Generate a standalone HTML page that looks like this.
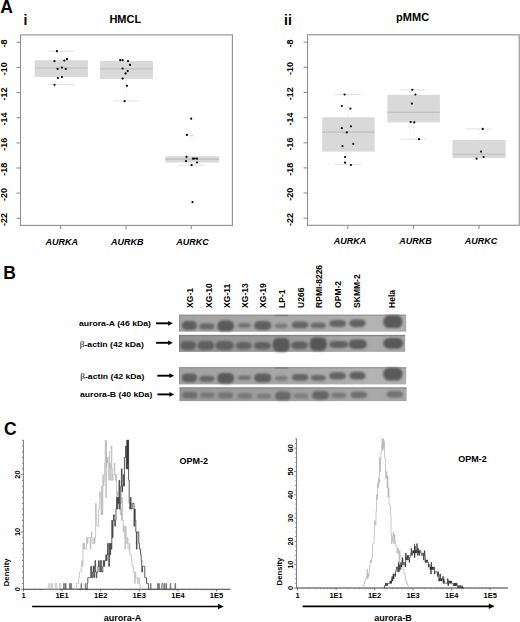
<!DOCTYPE html>
<html><head><meta charset="utf-8"><style>html,body{margin:0;padding:0;background:#fff;}svg{display:block;}</style></head>
<body><svg width="520" height="622" viewBox="0 0 520 622">
<rect width="520" height="622" fill="#fff"/>
<text x="0.3" y="12.5" font-family="Liberation Sans, sans-serif" font-weight="bold" font-size="17.5">A</text>
<text x="3.3" y="278.7" font-family="Liberation Sans, sans-serif" font-weight="bold" font-size="17.5">B</text>
<text x="4" y="435.0" font-family="Liberation Sans, sans-serif" font-weight="bold" font-size="17.5">C</text>
<text x="23.6" y="24.5" font-family="Liberation Sans, sans-serif" font-weight="bold" font-size="14">i</text>
<text x="284.1" y="24.8" font-family="Liberation Sans, sans-serif" font-weight="bold" font-size="14">ii</text>
<text x="125.3" y="22.9" font-family="Liberation Sans, sans-serif" font-weight="bold" font-size="11" text-anchor="middle">HMCL</text>
<text x="412.6" y="21.2" font-family="Liberation Sans, sans-serif" font-weight="bold" font-size="11" text-anchor="middle">pMMC</text>
<rect x="20.5" y="34.9" width="211.9" height="190.5" fill="none" stroke="#8f8f8f" stroke-width="1.1"/>
<line x1="16.5" y1="42.3" x2="20.5" y2="42.3" stroke="#8f8f8f" stroke-width="1.1"/>
<text transform="translate(7.2,43.6) rotate(-90)" font-family="Liberation Sans, sans-serif" font-weight="bold" font-size="9" text-anchor="middle">-8</text>
<line x1="16.5" y1="67.4" x2="20.5" y2="67.4" stroke="#8f8f8f" stroke-width="1.1"/>
<text transform="translate(7.2,68.7) rotate(-90)" font-family="Liberation Sans, sans-serif" font-weight="bold" font-size="9" text-anchor="middle">-10</text>
<line x1="16.5" y1="92.6" x2="20.5" y2="92.6" stroke="#8f8f8f" stroke-width="1.1"/>
<text transform="translate(7.2,93.9) rotate(-90)" font-family="Liberation Sans, sans-serif" font-weight="bold" font-size="9" text-anchor="middle">-12</text>
<line x1="16.5" y1="117.7" x2="20.5" y2="117.7" stroke="#8f8f8f" stroke-width="1.1"/>
<text transform="translate(7.2,119.0) rotate(-90)" font-family="Liberation Sans, sans-serif" font-weight="bold" font-size="9" text-anchor="middle">-14</text>
<line x1="16.5" y1="142.9" x2="20.5" y2="142.9" stroke="#8f8f8f" stroke-width="1.1"/>
<text transform="translate(7.2,144.2) rotate(-90)" font-family="Liberation Sans, sans-serif" font-weight="bold" font-size="9" text-anchor="middle">-16</text>
<line x1="16.5" y1="168.0" x2="20.5" y2="168.0" stroke="#8f8f8f" stroke-width="1.1"/>
<text transform="translate(7.2,169.3) rotate(-90)" font-family="Liberation Sans, sans-serif" font-weight="bold" font-size="9" text-anchor="middle">-18</text>
<line x1="16.5" y1="193.1" x2="20.5" y2="193.1" stroke="#8f8f8f" stroke-width="1.1"/>
<text transform="translate(7.2,194.4) rotate(-90)" font-family="Liberation Sans, sans-serif" font-weight="bold" font-size="9" text-anchor="middle">-20</text>
<line x1="16.5" y1="218.3" x2="20.5" y2="218.3" stroke="#8f8f8f" stroke-width="1.1"/>
<text transform="translate(7.2,219.6) rotate(-90)" font-family="Liberation Sans, sans-serif" font-weight="bold" font-size="9" text-anchor="middle">-22</text>
<line x1="60.6" y1="225.4" x2="60.6" y2="229.0" stroke="#8f8f8f" stroke-width="1.1"/>
<text x="61.800000000000004" y="245.2" font-family="Liberation Sans, sans-serif" font-weight="bold" font-style="italic" font-size="9" text-anchor="middle">AURKA</text>
<line x1="126.0" y1="225.4" x2="126.0" y2="229.0" stroke="#8f8f8f" stroke-width="1.1"/>
<text x="127.2" y="245.2" font-family="Liberation Sans, sans-serif" font-weight="bold" font-style="italic" font-size="9" text-anchor="middle">AURKB</text>
<line x1="191.3" y1="225.4" x2="191.3" y2="229.0" stroke="#8f8f8f" stroke-width="1.1"/>
<text x="192.5" y="245.2" font-family="Liberation Sans, sans-serif" font-weight="bold" font-style="italic" font-size="9" text-anchor="middle">AURKC</text>
<rect x="34.7" y="60.2" width="53.2" height="16.799999999999997" fill="#d9d9d9"/>
<line x1="34.7" y1="68.0" x2="87.9" y2="68.0" stroke="#bdbdbd" stroke-width="1.1"/>
<line x1="61.3" y1="51.2" x2="61.3" y2="60.2" stroke="#e3e3e3" stroke-width="0.8" stroke-dasharray="2,2"/>
<line x1="48.3" y1="51.2" x2="74.3" y2="51.2" stroke="#dedede" stroke-width="0.9"/>
<line x1="61.3" y1="77.0" x2="61.3" y2="84.4" stroke="#e3e3e3" stroke-width="0.8" stroke-dasharray="2,2"/>
<line x1="48.3" y1="84.4" x2="74.3" y2="84.4" stroke="#dedede" stroke-width="0.9"/>
<rect x="100.1" y="60.9" width="52.80000000000001" height="18.1" fill="#d9d9d9"/>
<line x1="100.1" y1="68.9" x2="152.9" y2="68.9" stroke="#bdbdbd" stroke-width="1.1"/>
<line x1="126.5" y1="79.0" x2="126.5" y2="101.0" stroke="#e3e3e3" stroke-width="0.8" stroke-dasharray="2,2"/>
<line x1="113.5" y1="101.0" x2="139.5" y2="101.0" stroke="#dedede" stroke-width="0.9"/>
<rect x="165.4" y="156.2" width="53.79999999999998" height="6.300000000000011" fill="#d9d9d9"/>
<line x1="165.4" y1="159.1" x2="219.2" y2="159.1" stroke="#bdbdbd" stroke-width="1.1"/>
<line x1="191.3" y1="162.5" x2="191.3" y2="165.2" stroke="#e3e3e3" stroke-width="0.8" stroke-dasharray="2,2"/>
<line x1="178.3" y1="165.2" x2="204.3" y2="165.2" stroke="#dedede" stroke-width="0.9"/>
<circle cx="56.9" cy="51.2" r="1.1" fill="#000"/>
<circle cx="54.5" cy="61.1" r="1.1" fill="#000"/>
<circle cx="64.3" cy="60.5" r="1.1" fill="#000"/>
<circle cx="67" cy="59.2" r="1.1" fill="#000"/>
<circle cx="62" cy="67.6" r="1.1" fill="#000"/>
<circle cx="57.6" cy="68.9" r="1.1" fill="#000"/>
<circle cx="65.7" cy="68.9" r="1.1" fill="#000"/>
<circle cx="57.9" cy="78" r="1.1" fill="#000"/>
<circle cx="61.9" cy="77" r="1.1" fill="#000"/>
<circle cx="54.5" cy="84.8" r="1.1" fill="#000"/>
<circle cx="120.2" cy="60.2" r="1.1" fill="#000"/>
<circle cx="122.6" cy="60.2" r="1.1" fill="#000"/>
<circle cx="128" cy="61.1" r="1.1" fill="#000"/>
<circle cx="130" cy="64.9" r="1.1" fill="#000"/>
<circle cx="122.6" cy="68.5" r="1.1" fill="#000"/>
<circle cx="127.7" cy="71" r="1.1" fill="#000"/>
<circle cx="125.6" cy="73.4" r="1.1" fill="#000"/>
<circle cx="122.6" cy="78.6" r="1.1" fill="#000"/>
<circle cx="126.9" cy="85.8" r="1.1" fill="#000"/>
<circle cx="124.6" cy="101.2" r="1.1" fill="#000"/>
<circle cx="191.2" cy="118.7" r="1.1" fill="#000"/>
<circle cx="186.9" cy="134.9" r="1.1" fill="#000"/>
<circle cx="186.5" cy="156.8" r="1.1" fill="#000"/>
<circle cx="193" cy="158.7" r="1.1" fill="#000"/>
<circle cx="194.7" cy="158.5" r="1.1" fill="#000"/>
<circle cx="197" cy="158.7" r="1.1" fill="#000"/>
<circle cx="186" cy="161.1" r="1.1" fill="#000"/>
<circle cx="197" cy="162.5" r="1.1" fill="#000"/>
<circle cx="191.6" cy="165.2" r="1.1" fill="#000"/>
<circle cx="192.5" cy="202.1" r="1.1" fill="#000"/>
<rect x="307.5" y="34.8" width="211.70000000000005" height="190.5" fill="none" stroke="#8f8f8f" stroke-width="1.1"/>
<line x1="303.5" y1="42.2" x2="307.5" y2="42.2" stroke="#8f8f8f" stroke-width="1.1"/>
<text transform="translate(292.9,43.5) rotate(-90)" font-family="Liberation Sans, sans-serif" font-weight="bold" font-size="9" text-anchor="middle">-8</text>
<line x1="303.5" y1="67.3" x2="307.5" y2="67.3" stroke="#8f8f8f" stroke-width="1.1"/>
<text transform="translate(292.9,68.6) rotate(-90)" font-family="Liberation Sans, sans-serif" font-weight="bold" font-size="9" text-anchor="middle">-10</text>
<line x1="303.5" y1="92.5" x2="307.5" y2="92.5" stroke="#8f8f8f" stroke-width="1.1"/>
<text transform="translate(292.9,93.8) rotate(-90)" font-family="Liberation Sans, sans-serif" font-weight="bold" font-size="9" text-anchor="middle">-12</text>
<line x1="303.5" y1="117.6" x2="307.5" y2="117.6" stroke="#8f8f8f" stroke-width="1.1"/>
<text transform="translate(292.9,118.9) rotate(-90)" font-family="Liberation Sans, sans-serif" font-weight="bold" font-size="9" text-anchor="middle">-14</text>
<line x1="303.5" y1="142.8" x2="307.5" y2="142.8" stroke="#8f8f8f" stroke-width="1.1"/>
<text transform="translate(292.9,144.1) rotate(-90)" font-family="Liberation Sans, sans-serif" font-weight="bold" font-size="9" text-anchor="middle">-16</text>
<line x1="303.5" y1="167.9" x2="307.5" y2="167.9" stroke="#8f8f8f" stroke-width="1.1"/>
<text transform="translate(292.9,169.2) rotate(-90)" font-family="Liberation Sans, sans-serif" font-weight="bold" font-size="9" text-anchor="middle">-18</text>
<line x1="303.5" y1="193.0" x2="307.5" y2="193.0" stroke="#8f8f8f" stroke-width="1.1"/>
<text transform="translate(292.9,194.3) rotate(-90)" font-family="Liberation Sans, sans-serif" font-weight="bold" font-size="9" text-anchor="middle">-20</text>
<line x1="303.5" y1="218.2" x2="307.5" y2="218.2" stroke="#8f8f8f" stroke-width="1.1"/>
<text transform="translate(292.9,219.5) rotate(-90)" font-family="Liberation Sans, sans-serif" font-weight="bold" font-size="9" text-anchor="middle">-22</text>
<line x1="347.8" y1="225.3" x2="347.8" y2="228.9" stroke="#8f8f8f" stroke-width="1.1"/>
<text x="349.90000000000003" y="243.5" font-family="Liberation Sans, sans-serif" font-weight="bold" font-style="italic" font-size="9" text-anchor="middle">AURKA</text>
<line x1="413.4" y1="225.3" x2="413.4" y2="228.9" stroke="#8f8f8f" stroke-width="1.1"/>
<text x="415.5" y="243.5" font-family="Liberation Sans, sans-serif" font-weight="bold" font-style="italic" font-size="9" text-anchor="middle">AURKB</text>
<line x1="478.9" y1="225.3" x2="478.9" y2="228.9" stroke="#8f8f8f" stroke-width="1.1"/>
<text x="481.0" y="243.5" font-family="Liberation Sans, sans-serif" font-weight="bold" font-style="italic" font-size="9" text-anchor="middle">AURKC</text>
<rect x="322.2" y="117.3" width="52.400000000000034" height="34.3" fill="#d9d9d9"/>
<line x1="322.2" y1="132.1" x2="374.6" y2="132.1" stroke="#bdbdbd" stroke-width="1.1"/>
<line x1="347.8" y1="94.5" x2="347.8" y2="117.3" stroke="#e3e3e3" stroke-width="0.8" stroke-dasharray="2,2"/>
<line x1="334.8" y1="94.5" x2="360.8" y2="94.5" stroke="#dedede" stroke-width="0.9"/>
<line x1="347.8" y1="151.6" x2="347.8" y2="164.3" stroke="#e3e3e3" stroke-width="0.8" stroke-dasharray="2,2"/>
<line x1="334.8" y1="164.3" x2="360.8" y2="164.3" stroke="#dedede" stroke-width="0.9"/>
<rect x="387.4" y="94.8" width="52.5" height="27.60000000000001" fill="#d9d9d9"/>
<line x1="387.4" y1="112.3" x2="439.9" y2="112.3" stroke="#bdbdbd" stroke-width="1.1"/>
<line x1="413.4" y1="89.8" x2="413.4" y2="94.8" stroke="#e3e3e3" stroke-width="0.8" stroke-dasharray="2,2"/>
<line x1="400.4" y1="89.8" x2="426.4" y2="89.8" stroke="#dedede" stroke-width="0.9"/>
<line x1="413.4" y1="122.4" x2="413.4" y2="139.2" stroke="#e3e3e3" stroke-width="0.8" stroke-dasharray="2,2"/>
<line x1="400.4" y1="139.2" x2="426.4" y2="139.2" stroke="#dedede" stroke-width="0.9"/>
<rect x="452.4" y="139.9" width="53.200000000000045" height="18.19999999999999" fill="#d9d9d9"/>
<line x1="452.4" y1="154.3" x2="505.6" y2="154.3" stroke="#bdbdbd" stroke-width="1.1"/>
<line x1="478.9" y1="128.9" x2="478.9" y2="139.9" stroke="#e3e3e3" stroke-width="0.8" stroke-dasharray="2,2"/>
<line x1="465.9" y1="128.9" x2="491.9" y2="128.9" stroke="#dedede" stroke-width="0.9"/>
<circle cx="344.6" cy="94.5" r="1.1" fill="#000"/>
<circle cx="341.8" cy="106" r="1.1" fill="#000"/>
<circle cx="350.4" cy="108.6" r="1.1" fill="#000"/>
<circle cx="350.9" cy="126.3" r="1.1" fill="#000"/>
<circle cx="341.8" cy="128.2" r="1.1" fill="#000"/>
<circle cx="346.8" cy="132.4" r="1.1" fill="#000"/>
<circle cx="353.3" cy="143.9" r="1.1" fill="#000"/>
<circle cx="342.5" cy="146.2" r="1.1" fill="#000"/>
<circle cx="345.1" cy="157.1" r="1.1" fill="#000"/>
<circle cx="345.1" cy="162.7" r="1.1" fill="#000"/>
<circle cx="350.9" cy="165" r="1.1" fill="#000"/>
<circle cx="412.3" cy="89.8" r="1.1" fill="#000"/>
<circle cx="415.4" cy="94.5" r="1.1" fill="#000"/>
<circle cx="411.9" cy="103.6" r="1.1" fill="#000"/>
<circle cx="410.7" cy="122" r="1.1" fill="#000"/>
<circle cx="414.3" cy="122.4" r="1.1" fill="#000"/>
<circle cx="419" cy="139.2" r="1.1" fill="#000"/>
<circle cx="482.7" cy="128.9" r="1.1" fill="#000"/>
<circle cx="481.1" cy="151.6" r="1.1" fill="#000"/>
<circle cx="483.6" cy="157" r="1.1" fill="#000"/>
<circle cx="476.6" cy="158.7" r="1.1" fill="#000"/>
<circle cx="191.8" cy="135.2" r="1.6" fill="#e6e6e6"/>
<text transform="translate(192.9,307.9) rotate(-90)" font-family="Liberation Sans, sans-serif" font-weight="bold" font-size="8.5">XG-1</text>
<text transform="translate(212.0,307.9) rotate(-90)" font-family="Liberation Sans, sans-serif" font-weight="bold" font-size="8.5">XG-10</text>
<text transform="translate(230.4,307.9) rotate(-90)" font-family="Liberation Sans, sans-serif" font-weight="bold" font-size="8.5">XG-11</text>
<text transform="translate(247.5,307.9) rotate(-90)" font-family="Liberation Sans, sans-serif" font-weight="bold" font-size="8.5">XG-13</text>
<text transform="translate(266.2,307.9) rotate(-90)" font-family="Liberation Sans, sans-serif" font-weight="bold" font-size="8.5">XG-19</text>
<text transform="translate(285.3,307.9) rotate(-90)" font-family="Liberation Sans, sans-serif" font-weight="bold" font-size="8.5">LP-1</text>
<text transform="translate(303.9,307.9) rotate(-90)" font-family="Liberation Sans, sans-serif" font-weight="bold" font-size="8.5">U266</text>
<text transform="translate(322.4,307.9) rotate(-90)" font-family="Liberation Sans, sans-serif" font-weight="bold" font-size="8.5">RPMI-8226</text>
<text transform="translate(340.9,307.9) rotate(-90)" font-family="Liberation Sans, sans-serif" font-weight="bold" font-size="8.5">OPM-2</text>
<text transform="translate(359.9,307.9) rotate(-90)" font-family="Liberation Sans, sans-serif" font-weight="bold" font-size="8.5">SKMM-2</text>
<text transform="translate(395.2,307.9) rotate(-90)" font-family="Liberation Sans, sans-serif" font-weight="bold" font-size="8.5">Hela</text>
<g transform="translate(78.9,326.3) scale(1,0.92)"><text x="0" y="0" font-family="Liberation Sans, sans-serif" font-weight="bold" font-size="8.7">aurora-A (46 kDa)</text></g>
<g transform="translate(79.7,346.7) scale(1,0.92)"><text x="0" y="0" font-size="9.4"><tspan font-family="Liberation Serif, serif">β</tspan><tspan font-family="Liberation Sans, sans-serif" font-weight="bold" font-size="8.7">-actin (42 kDa)</tspan></text></g>
<g transform="translate(80.2,378.6) scale(1,0.92)"><text x="0" y="0" font-size="9.4"><tspan font-family="Liberation Serif, serif">β</tspan><tspan font-family="Liberation Sans, sans-serif" font-weight="bold" font-size="8.7">-actin (42 kDa)</tspan></text></g>
<g transform="translate(79.9,397.3) scale(1,0.92)"><text x="0" y="0" font-family="Liberation Sans, sans-serif" font-weight="bold" font-size="8.7">aurora-B (40 kDa)</text></g>
<line x1="156.1" y1="323.3" x2="169.0" y2="323.3" stroke="#000" stroke-width="1.9"/>
<path d="M172.9 323.3 L168.1 320.90000000000003 L168.1 325.7 Z" fill="#000"/>
<line x1="156.1" y1="342.8" x2="169.0" y2="342.8" stroke="#000" stroke-width="1.9"/>
<path d="M172.9 342.8 L168.1 340.40000000000003 L168.1 345.2 Z" fill="#000"/>
<line x1="157.4" y1="375.7" x2="170.3" y2="375.7" stroke="#000" stroke-width="1.9"/>
<path d="M174.2 375.7 L169.4 373.3 L169.4 378.09999999999997 Z" fill="#000"/>
<line x1="157.4" y1="394.4" x2="170.3" y2="394.4" stroke="#000" stroke-width="1.9"/>
<path d="M174.2 394.4 L169.4 392.0 L169.4 396.79999999999995 Z" fill="#000"/>
<defs><filter id="bl" x="-30%" y="-80%" width="160%" height="260%"><feGaussianBlur stdDeviation="1.0"/></filter><filter id="bl2" x="-10%" y="-10%" width="120%" height="120%"><feGaussianBlur stdDeviation="0.6"/></filter></defs>
<defs><linearGradient id="g314" gradientUnits="userSpaceOnUse" x1="179.1" y1="0" x2="406.2" y2="0"><stop offset="0.000" stop-color="#a3a3a3"/><stop offset="0.532" stop-color="#a8a8a8"/><stop offset="0.686" stop-color="#acacac"/><stop offset="0.849" stop-color="#b4b4b4"/><stop offset="1.000" stop-color="#aeaeae"/></linearGradient></defs>
<rect x="179.1" y="314.7" width="227.1" height="17.0" fill="url(#g314)"/>
<rect x="179.1" y="314.7" width="227.1" height="1.3" fill="#939393" fill-opacity="0.8"/>
<rect x="179.1" y="314.7" width="1" height="17.0" fill="#939393"/>
<rect x="181.8" y="321.1" width="15.3" height="8.8" rx="4.5" ry="4.4" fill="#5e5e5e" filter="url(#bl)"/>
<rect x="199.3" y="323.3" width="15.1" height="6.1" rx="4.4" ry="3.0" fill="#686868" filter="url(#bl)"/>
<rect x="217.2" y="320.6" width="16.8" height="10.6" rx="4.9" ry="5.3" fill="#5a5a5a" filter="url(#bl)"/>
<rect x="237.9" y="323.2" width="12.7" height="4.3" rx="3.7" ry="2.1" fill="#6e6e6e" filter="url(#bl)"/>
<rect x="254.0" y="321.1" width="17.4" height="8.8" rx="5.1" ry="4.4" fill="#5e5e5e" filter="url(#bl)"/>
<rect x="274.8" y="323.4" width="12.7" height="4.9" rx="3.7" ry="2.5" fill="#7a7a7a" filter="url(#bl)"/>
<rect x="291.7" y="321.6" width="16.8" height="6.7" rx="4.9" ry="3.4" fill="#656565" filter="url(#bl)"/>
<rect x="310.7" y="322.6" width="15.1" height="5.7" rx="4.4" ry="2.9" fill="#6a6a6a" filter="url(#bl)"/>
<rect x="329.2" y="319.9" width="16.8" height="7.2" rx="4.9" ry="3.6" fill="#636363" filter="url(#bl)"/>
<rect x="349.4" y="319.4" width="16.2" height="7.8" rx="4.8" ry="3.9" fill="#606060" filter="url(#bl)"/>
<rect x="383.2" y="315.3" width="19.3" height="12.8" rx="5.7" ry="6.4" fill="#5a5a5a" filter="url(#bl)"/>
<rect x="274.8" y="314.9" width="13.2" height="1.3" fill="#7a7a7a" filter="url(#bl2)"/>
<defs><linearGradient id="g334" gradientUnits="userSpaceOnUse" x1="179.1" y1="0" x2="405.2" y2="0"><stop offset="0.000" stop-color="#929292"/><stop offset="0.535" stop-color="#9c9c9c"/><stop offset="0.690" stop-color="#a2a2a2"/><stop offset="0.853" stop-color="#acacac"/><stop offset="1.000" stop-color="#a6a6a6"/></linearGradient></defs>
<rect x="179.1" y="334.9" width="226.1" height="17.0" fill="url(#g334)"/>
<rect x="179.1" y="334.9" width="226.1" height="1.3" fill="#7e7e7e" fill-opacity="0.8"/>
<rect x="179.1" y="334.9" width="1" height="17.0" fill="#7e7e7e"/>
<rect x="180.3" y="341.1" width="15.6" height="8.8" rx="4.6" ry="4.4" fill="#5f5f5f" filter="url(#bl)"/>
<rect x="197.6" y="341.1" width="16.8" height="8.8" rx="4.9" ry="4.4" fill="#5f5f5f" filter="url(#bl)"/>
<rect x="215.4" y="341.1" width="18.6" height="8.8" rx="5.5" ry="4.4" fill="#616161" filter="url(#bl)"/>
<rect x="235.6" y="342.1" width="16.2" height="7.3" rx="4.8" ry="3.6" fill="#646464" filter="url(#bl)"/>
<rect x="254.0" y="341.9" width="16.8" height="7.5" rx="4.9" ry="3.8" fill="#606060" filter="url(#bl)"/>
<rect x="272.5" y="337.9" width="17.3" height="13.8" rx="5.1" ry="6.9" fill="#585858" filter="url(#bl)"/>
<rect x="291.1" y="341.5" width="16.8" height="7.7" rx="4.9" ry="3.9" fill="#606060" filter="url(#bl)"/>
<rect x="309.6" y="337.4" width="17.3" height="13.3" rx="5.1" ry="6.7" fill="#565656" filter="url(#bl)"/>
<rect x="329.2" y="340.9" width="19.1" height="7.2" rx="5.6" ry="3.6" fill="#606060" filter="url(#bl)"/>
<rect x="348.8" y="339.4" width="18.1" height="9.5" rx="5.3" ry="4.8" fill="#5b5b5b" filter="url(#bl)"/>
<rect x="383.2" y="337.9" width="19.9" height="10.8" rx="5.9" ry="5.4" fill="#585858" filter="url(#bl)"/>
<defs><linearGradient id="g367" gradientUnits="userSpaceOnUse" x1="179.1" y1="0" x2="406.2" y2="0"><stop offset="0.000" stop-color="#a3a3a3"/><stop offset="0.532" stop-color="#a8a8a8"/><stop offset="0.686" stop-color="#acacac"/><stop offset="0.849" stop-color="#b4b4b4"/><stop offset="1.000" stop-color="#aeaeae"/></linearGradient></defs>
<rect x="179.1" y="367.1" width="227.1" height="17.299999999999955" fill="url(#g367)"/>
<rect x="179.1" y="367.1" width="227.1" height="1.3" fill="#939393" fill-opacity="0.8"/>
<rect x="179.1" y="367.1" width="1" height="17.299999999999955" fill="#939393"/>
<rect x="181.8" y="373.5" width="15.3" height="8.8" rx="4.5" ry="4.4" fill="#5e5e5e" filter="url(#bl)"/>
<rect x="199.3" y="375.7" width="15.1" height="6.1" rx="4.4" ry="3.0" fill="#686868" filter="url(#bl)"/>
<rect x="217.2" y="373.0" width="16.8" height="10.6" rx="4.9" ry="5.3" fill="#5a5a5a" filter="url(#bl)"/>
<rect x="237.9" y="375.6" width="12.7" height="4.3" rx="3.7" ry="2.1" fill="#6e6e6e" filter="url(#bl)"/>
<rect x="254.0" y="373.5" width="17.4" height="8.8" rx="5.1" ry="4.4" fill="#5e5e5e" filter="url(#bl)"/>
<rect x="274.8" y="375.8" width="12.7" height="4.9" rx="3.7" ry="2.5" fill="#7a7a7a" filter="url(#bl)"/>
<rect x="291.7" y="374.0" width="16.8" height="6.7" rx="4.9" ry="3.4" fill="#656565" filter="url(#bl)"/>
<rect x="310.7" y="375.0" width="15.1" height="5.7" rx="4.4" ry="2.9" fill="#6a6a6a" filter="url(#bl)"/>
<rect x="329.2" y="372.3" width="16.8" height="7.2" rx="4.9" ry="3.6" fill="#636363" filter="url(#bl)"/>
<rect x="349.4" y="371.8" width="16.2" height="7.8" rx="4.8" ry="3.9" fill="#606060" filter="url(#bl)"/>
<rect x="383.2" y="367.7" width="19.3" height="12.8" rx="5.7" ry="6.4" fill="#5a5a5a" filter="url(#bl)"/>
<rect x="274.8" y="367.3" width="13.2" height="1.3" fill="#7a7a7a" filter="url(#bl2)"/>
<defs><linearGradient id="g387" gradientUnits="userSpaceOnUse" x1="179.7" y1="0" x2="406.6" y2="0"><stop offset="0.000" stop-color="#9a9a9a"/><stop offset="0.530" stop-color="#a0a0a0"/><stop offset="0.684" stop-color="#a4a4a4"/><stop offset="0.848" stop-color="#aaaaaa"/><stop offset="1.000" stop-color="#a6a6a6"/></linearGradient></defs>
<rect x="179.7" y="387.4" width="226.90000000000003" height="13.700000000000045" fill="url(#g387)"/>
<rect x="179.7" y="387.4" width="226.90000000000003" height="1.3" fill="#888888" fill-opacity="0.8"/>
<rect x="179.7" y="387.4" width="1" height="13.700000000000045" fill="#888888"/>
<rect x="182.2" y="391.7" width="15.3" height="6.9" rx="4.5" ry="3.4" fill="#6c6c6c" filter="url(#bl)"/>
<rect x="200.0" y="392.6" width="14.8" height="5.5" rx="4.4" ry="2.8" fill="#787878" filter="url(#bl)"/>
<rect x="218.0" y="392.2" width="15.2" height="6.3" rx="4.5" ry="3.1" fill="#747474" filter="url(#bl)"/>
<rect x="237.5" y="393.1" width="14.7" height="5.7" rx="4.3" ry="2.9" fill="#787878" filter="url(#bl)"/>
<rect x="256.5" y="393.4" width="14.7" height="5.3" rx="4.3" ry="2.6" fill="#7c7c7c" filter="url(#bl)"/>
<rect x="275.0" y="391.6" width="15.8" height="8.7" rx="4.6" ry="4.4" fill="#686868" filter="url(#bl)"/>
<rect x="293.6" y="393.6" width="14.7" height="4.7" rx="4.3" ry="2.4" fill="#7e7e7e" filter="url(#bl)"/>
<rect x="312.0" y="390.9" width="17.0" height="8.7" rx="5.0" ry="4.4" fill="#656565" filter="url(#bl)"/>
<rect x="331.1" y="392.5" width="15.3" height="5.7" rx="4.5" ry="2.9" fill="#7a7a7a" filter="url(#bl)"/>
<rect x="350.3" y="391.6" width="17.0" height="6.7" rx="5.0" ry="3.4" fill="#707070" filter="url(#bl)"/>
<rect x="386.5" y="391.0" width="16.4" height="6.7" rx="4.8" ry="3.4" fill="#727272" filter="url(#bl)"/>
<line x1="23.4" y1="440" x2="23.4" y2="589.2" stroke="#6a6a6a" stroke-width="0.9"/>
<line x1="22.9" y1="589.2" x2="230.4" y2="589.2" stroke="#3a3a3a" stroke-width="1.15"/>
<line x1="21.0" y1="589.2" x2="23.4" y2="589.2" stroke="#666" stroke-width="0.8"/>
<line x1="22.0" y1="583.5" x2="23.4" y2="583.5" stroke="#666" stroke-width="0.8"/>
<line x1="22.0" y1="577.7" x2="23.4" y2="577.7" stroke="#666" stroke-width="0.8"/>
<line x1="22.0" y1="572.0" x2="23.4" y2="572.0" stroke="#666" stroke-width="0.8"/>
<line x1="22.0" y1="566.3" x2="23.4" y2="566.3" stroke="#666" stroke-width="0.8"/>
<line x1="22.0" y1="560.6" x2="23.4" y2="560.6" stroke="#666" stroke-width="0.8"/>
<line x1="22.0" y1="554.8" x2="23.4" y2="554.8" stroke="#666" stroke-width="0.8"/>
<line x1="22.0" y1="549.1" x2="23.4" y2="549.1" stroke="#666" stroke-width="0.8"/>
<line x1="22.0" y1="543.4" x2="23.4" y2="543.4" stroke="#666" stroke-width="0.8"/>
<line x1="22.0" y1="537.6" x2="23.4" y2="537.6" stroke="#666" stroke-width="0.8"/>
<line x1="21.0" y1="531.9" x2="23.4" y2="531.9" stroke="#666" stroke-width="0.8"/>
<line x1="22.0" y1="526.2" x2="23.4" y2="526.2" stroke="#666" stroke-width="0.8"/>
<line x1="22.0" y1="520.4" x2="23.4" y2="520.4" stroke="#666" stroke-width="0.8"/>
<line x1="22.0" y1="514.7" x2="23.4" y2="514.7" stroke="#666" stroke-width="0.8"/>
<line x1="22.0" y1="509.0" x2="23.4" y2="509.0" stroke="#666" stroke-width="0.8"/>
<line x1="22.0" y1="503.3" x2="23.4" y2="503.3" stroke="#666" stroke-width="0.8"/>
<line x1="22.0" y1="497.5" x2="23.4" y2="497.5" stroke="#666" stroke-width="0.8"/>
<line x1="22.0" y1="491.8" x2="23.4" y2="491.8" stroke="#666" stroke-width="0.8"/>
<line x1="22.0" y1="486.1" x2="23.4" y2="486.1" stroke="#666" stroke-width="0.8"/>
<line x1="22.0" y1="480.3" x2="23.4" y2="480.3" stroke="#666" stroke-width="0.8"/>
<line x1="21.0" y1="474.6" x2="23.4" y2="474.6" stroke="#666" stroke-width="0.8"/>
<line x1="22.0" y1="468.9" x2="23.4" y2="468.9" stroke="#666" stroke-width="0.8"/>
<line x1="22.0" y1="463.1" x2="23.4" y2="463.1" stroke="#666" stroke-width="0.8"/>
<line x1="22.0" y1="457.4" x2="23.4" y2="457.4" stroke="#666" stroke-width="0.8"/>
<line x1="22.0" y1="451.7" x2="23.4" y2="451.7" stroke="#666" stroke-width="0.8"/>
<line x1="22.0" y1="446.0" x2="23.4" y2="446.0" stroke="#666" stroke-width="0.8"/>
<line x1="22.0" y1="440.2" x2="23.4" y2="440.2" stroke="#666" stroke-width="0.8"/>
<text transform="translate(19.7,589.2) rotate(-90)" font-family="Liberation Sans, sans-serif" font-weight="bold" font-size="7.4" text-anchor="middle">0</text>
<text transform="translate(19.7,531.9) rotate(-90)" font-family="Liberation Sans, sans-serif" font-weight="bold" font-size="7.4" text-anchor="middle">10</text>
<text transform="translate(19.7,474.6) rotate(-90)" font-family="Liberation Sans, sans-serif" font-weight="bold" font-size="7.4" text-anchor="middle">20</text>
<text x="23.5" y="597.6" font-family="Liberation Sans, sans-serif" font-weight="bold" font-size="7.5" text-anchor="middle">1</text>
<line x1="35.1" y1="589.2" x2="35.1" y2="590.5" stroke="#777" stroke-width="0.6"/>
<line x1="41.9" y1="589.2" x2="41.9" y2="590.5" stroke="#777" stroke-width="0.6"/>
<line x1="46.7" y1="589.2" x2="46.7" y2="590.5" stroke="#777" stroke-width="0.6"/>
<line x1="50.5" y1="589.2" x2="50.5" y2="590.5" stroke="#777" stroke-width="0.6"/>
<line x1="53.5" y1="589.2" x2="53.5" y2="590.5" stroke="#777" stroke-width="0.6"/>
<line x1="56.1" y1="589.2" x2="56.1" y2="590.5" stroke="#777" stroke-width="0.6"/>
<line x1="58.4" y1="589.2" x2="58.4" y2="590.5" stroke="#777" stroke-width="0.6"/>
<line x1="60.3" y1="589.2" x2="60.3" y2="590.5" stroke="#777" stroke-width="0.6"/>
<line x1="23.5" y1="589.2" x2="23.5" y2="591.4000000000001" stroke="#555" stroke-width="0.8"/>
<text x="62.1" y="597.6" font-family="Liberation Sans, sans-serif" font-weight="bold" font-size="7.5" text-anchor="middle">1E1</text>
<line x1="73.7" y1="589.2" x2="73.7" y2="590.5" stroke="#777" stroke-width="0.6"/>
<line x1="80.5" y1="589.2" x2="80.5" y2="590.5" stroke="#777" stroke-width="0.6"/>
<line x1="85.3" y1="589.2" x2="85.3" y2="590.5" stroke="#777" stroke-width="0.6"/>
<line x1="89.1" y1="589.2" x2="89.1" y2="590.5" stroke="#777" stroke-width="0.6"/>
<line x1="92.1" y1="589.2" x2="92.1" y2="590.5" stroke="#777" stroke-width="0.6"/>
<line x1="94.7" y1="589.2" x2="94.7" y2="590.5" stroke="#777" stroke-width="0.6"/>
<line x1="97.0" y1="589.2" x2="97.0" y2="590.5" stroke="#777" stroke-width="0.6"/>
<line x1="98.9" y1="589.2" x2="98.9" y2="590.5" stroke="#777" stroke-width="0.6"/>
<line x1="62.1" y1="589.2" x2="62.1" y2="591.4000000000001" stroke="#555" stroke-width="0.8"/>
<text x="100.7" y="597.6" font-family="Liberation Sans, sans-serif" font-weight="bold" font-size="7.5" text-anchor="middle">1E2</text>
<line x1="112.3" y1="589.2" x2="112.3" y2="590.5" stroke="#777" stroke-width="0.6"/>
<line x1="119.1" y1="589.2" x2="119.1" y2="590.5" stroke="#777" stroke-width="0.6"/>
<line x1="123.9" y1="589.2" x2="123.9" y2="590.5" stroke="#777" stroke-width="0.6"/>
<line x1="127.7" y1="589.2" x2="127.7" y2="590.5" stroke="#777" stroke-width="0.6"/>
<line x1="130.7" y1="589.2" x2="130.7" y2="590.5" stroke="#777" stroke-width="0.6"/>
<line x1="133.3" y1="589.2" x2="133.3" y2="590.5" stroke="#777" stroke-width="0.6"/>
<line x1="135.6" y1="589.2" x2="135.6" y2="590.5" stroke="#777" stroke-width="0.6"/>
<line x1="137.5" y1="589.2" x2="137.5" y2="590.5" stroke="#777" stroke-width="0.6"/>
<line x1="100.7" y1="589.2" x2="100.7" y2="591.4000000000001" stroke="#555" stroke-width="0.8"/>
<text x="139.3" y="597.6" font-family="Liberation Sans, sans-serif" font-weight="bold" font-size="7.5" text-anchor="middle">1E3</text>
<line x1="150.9" y1="589.2" x2="150.9" y2="590.5" stroke="#777" stroke-width="0.6"/>
<line x1="157.7" y1="589.2" x2="157.7" y2="590.5" stroke="#777" stroke-width="0.6"/>
<line x1="162.5" y1="589.2" x2="162.5" y2="590.5" stroke="#777" stroke-width="0.6"/>
<line x1="166.3" y1="589.2" x2="166.3" y2="590.5" stroke="#777" stroke-width="0.6"/>
<line x1="169.3" y1="589.2" x2="169.3" y2="590.5" stroke="#777" stroke-width="0.6"/>
<line x1="171.9" y1="589.2" x2="171.9" y2="590.5" stroke="#777" stroke-width="0.6"/>
<line x1="174.2" y1="589.2" x2="174.2" y2="590.5" stroke="#777" stroke-width="0.6"/>
<line x1="176.1" y1="589.2" x2="176.1" y2="590.5" stroke="#777" stroke-width="0.6"/>
<line x1="139.3" y1="589.2" x2="139.3" y2="591.4000000000001" stroke="#555" stroke-width="0.8"/>
<text x="177.9" y="597.6" font-family="Liberation Sans, sans-serif" font-weight="bold" font-size="7.5" text-anchor="middle">1E4</text>
<line x1="189.5" y1="589.2" x2="189.5" y2="590.5" stroke="#777" stroke-width="0.6"/>
<line x1="196.3" y1="589.2" x2="196.3" y2="590.5" stroke="#777" stroke-width="0.6"/>
<line x1="201.1" y1="589.2" x2="201.1" y2="590.5" stroke="#777" stroke-width="0.6"/>
<line x1="204.9" y1="589.2" x2="204.9" y2="590.5" stroke="#777" stroke-width="0.6"/>
<line x1="207.9" y1="589.2" x2="207.9" y2="590.5" stroke="#777" stroke-width="0.6"/>
<line x1="210.5" y1="589.2" x2="210.5" y2="590.5" stroke="#777" stroke-width="0.6"/>
<line x1="212.8" y1="589.2" x2="212.8" y2="590.5" stroke="#777" stroke-width="0.6"/>
<line x1="214.7" y1="589.2" x2="214.7" y2="590.5" stroke="#777" stroke-width="0.6"/>
<line x1="177.9" y1="589.2" x2="177.9" y2="591.4000000000001" stroke="#555" stroke-width="0.8"/>
<text x="216.5" y="597.6" font-family="Liberation Sans, sans-serif" font-weight="bold" font-size="7.5" text-anchor="middle">1E5</text>
<line x1="216.5" y1="589.2" x2="216.5" y2="591.4000000000001" stroke="#555" stroke-width="0.8"/>
<text transform="translate(9.2,572.3) rotate(-90)" font-family="Liberation Sans, sans-serif" font-weight="bold" font-size="7.7" text-anchor="middle">Density</text>
<line x1="296.6" y1="438.5" x2="296.6" y2="588" stroke="#6a6a6a" stroke-width="0.9"/>
<line x1="296.1" y1="588" x2="508" y2="588" stroke="#3a3a3a" stroke-width="1.15"/>
<line x1="294.20000000000005" y1="588.0" x2="296.6" y2="588.0" stroke="#666" stroke-width="0.8"/>
<line x1="295.20000000000005" y1="583.3" x2="296.6" y2="583.3" stroke="#666" stroke-width="0.8"/>
<line x1="295.20000000000005" y1="578.7" x2="296.6" y2="578.7" stroke="#666" stroke-width="0.8"/>
<line x1="295.20000000000005" y1="574.0" x2="296.6" y2="574.0" stroke="#666" stroke-width="0.8"/>
<line x1="295.20000000000005" y1="569.4" x2="296.6" y2="569.4" stroke="#666" stroke-width="0.8"/>
<line x1="294.20000000000005" y1="564.7" x2="296.6" y2="564.7" stroke="#666" stroke-width="0.8"/>
<line x1="295.20000000000005" y1="560.0" x2="296.6" y2="560.0" stroke="#666" stroke-width="0.8"/>
<line x1="295.20000000000005" y1="555.4" x2="296.6" y2="555.4" stroke="#666" stroke-width="0.8"/>
<line x1="295.20000000000005" y1="550.7" x2="296.6" y2="550.7" stroke="#666" stroke-width="0.8"/>
<line x1="295.20000000000005" y1="546.1" x2="296.6" y2="546.1" stroke="#666" stroke-width="0.8"/>
<line x1="294.20000000000005" y1="541.4" x2="296.6" y2="541.4" stroke="#666" stroke-width="0.8"/>
<line x1="295.20000000000005" y1="536.7" x2="296.6" y2="536.7" stroke="#666" stroke-width="0.8"/>
<line x1="295.20000000000005" y1="532.1" x2="296.6" y2="532.1" stroke="#666" stroke-width="0.8"/>
<line x1="295.20000000000005" y1="527.4" x2="296.6" y2="527.4" stroke="#666" stroke-width="0.8"/>
<line x1="295.20000000000005" y1="522.8" x2="296.6" y2="522.8" stroke="#666" stroke-width="0.8"/>
<line x1="294.20000000000005" y1="518.1" x2="296.6" y2="518.1" stroke="#666" stroke-width="0.8"/>
<line x1="295.20000000000005" y1="513.4" x2="296.6" y2="513.4" stroke="#666" stroke-width="0.8"/>
<line x1="295.20000000000005" y1="508.8" x2="296.6" y2="508.8" stroke="#666" stroke-width="0.8"/>
<line x1="295.20000000000005" y1="504.1" x2="296.6" y2="504.1" stroke="#666" stroke-width="0.8"/>
<line x1="295.20000000000005" y1="499.5" x2="296.6" y2="499.5" stroke="#666" stroke-width="0.8"/>
<line x1="294.20000000000005" y1="494.8" x2="296.6" y2="494.8" stroke="#666" stroke-width="0.8"/>
<line x1="295.20000000000005" y1="490.1" x2="296.6" y2="490.1" stroke="#666" stroke-width="0.8"/>
<line x1="295.20000000000005" y1="485.5" x2="296.6" y2="485.5" stroke="#666" stroke-width="0.8"/>
<line x1="295.20000000000005" y1="480.8" x2="296.6" y2="480.8" stroke="#666" stroke-width="0.8"/>
<line x1="295.20000000000005" y1="476.2" x2="296.6" y2="476.2" stroke="#666" stroke-width="0.8"/>
<line x1="294.20000000000005" y1="471.5" x2="296.6" y2="471.5" stroke="#666" stroke-width="0.8"/>
<line x1="295.20000000000005" y1="466.8" x2="296.6" y2="466.8" stroke="#666" stroke-width="0.8"/>
<line x1="295.20000000000005" y1="462.2" x2="296.6" y2="462.2" stroke="#666" stroke-width="0.8"/>
<line x1="295.20000000000005" y1="457.5" x2="296.6" y2="457.5" stroke="#666" stroke-width="0.8"/>
<line x1="295.20000000000005" y1="452.9" x2="296.6" y2="452.9" stroke="#666" stroke-width="0.8"/>
<line x1="294.20000000000005" y1="448.2" x2="296.6" y2="448.2" stroke="#666" stroke-width="0.8"/>
<line x1="295.20000000000005" y1="443.5" x2="296.6" y2="443.5" stroke="#666" stroke-width="0.8"/>
<line x1="295.20000000000005" y1="438.9" x2="296.6" y2="438.9" stroke="#666" stroke-width="0.8"/>
<text transform="translate(292.9,588.0) rotate(-90)" font-family="Liberation Sans, sans-serif" font-weight="bold" font-size="7.4" text-anchor="middle">0</text>
<text transform="translate(292.9,564.7) rotate(-90)" font-family="Liberation Sans, sans-serif" font-weight="bold" font-size="7.4" text-anchor="middle">10</text>
<text transform="translate(292.9,541.4) rotate(-90)" font-family="Liberation Sans, sans-serif" font-weight="bold" font-size="7.4" text-anchor="middle">20</text>
<text transform="translate(292.9,518.1) rotate(-90)" font-family="Liberation Sans, sans-serif" font-weight="bold" font-size="7.4" text-anchor="middle">30</text>
<text transform="translate(292.9,494.8) rotate(-90)" font-family="Liberation Sans, sans-serif" font-weight="bold" font-size="7.4" text-anchor="middle">40</text>
<text transform="translate(292.9,471.5) rotate(-90)" font-family="Liberation Sans, sans-serif" font-weight="bold" font-size="7.4" text-anchor="middle">50</text>
<text transform="translate(292.9,448.2) rotate(-90)" font-family="Liberation Sans, sans-serif" font-weight="bold" font-size="7.4" text-anchor="middle">60</text>
<text x="297.5" y="597.6" font-family="Liberation Sans, sans-serif" font-weight="bold" font-size="7.5" text-anchor="middle">1</text>
<line x1="309.1" y1="588" x2="309.1" y2="589.3" stroke="#777" stroke-width="0.6"/>
<line x1="315.9" y1="588" x2="315.9" y2="589.3" stroke="#777" stroke-width="0.6"/>
<line x1="320.7" y1="588" x2="320.7" y2="589.3" stroke="#777" stroke-width="0.6"/>
<line x1="324.4" y1="588" x2="324.4" y2="589.3" stroke="#777" stroke-width="0.6"/>
<line x1="327.5" y1="588" x2="327.5" y2="589.3" stroke="#777" stroke-width="0.6"/>
<line x1="330.1" y1="588" x2="330.1" y2="589.3" stroke="#777" stroke-width="0.6"/>
<line x1="332.3" y1="588" x2="332.3" y2="589.3" stroke="#777" stroke-width="0.6"/>
<line x1="334.3" y1="588" x2="334.3" y2="589.3" stroke="#777" stroke-width="0.6"/>
<line x1="297.5" y1="588" x2="297.5" y2="590.2" stroke="#555" stroke-width="0.8"/>
<text x="336.1" y="597.6" font-family="Liberation Sans, sans-serif" font-weight="bold" font-size="7.5" text-anchor="middle">1E1</text>
<line x1="347.7" y1="588" x2="347.7" y2="589.3" stroke="#777" stroke-width="0.6"/>
<line x1="354.4" y1="588" x2="354.4" y2="589.3" stroke="#777" stroke-width="0.6"/>
<line x1="359.3" y1="588" x2="359.3" y2="589.3" stroke="#777" stroke-width="0.6"/>
<line x1="363.0" y1="588" x2="363.0" y2="589.3" stroke="#777" stroke-width="0.6"/>
<line x1="366.0" y1="588" x2="366.0" y2="589.3" stroke="#777" stroke-width="0.6"/>
<line x1="368.6" y1="588" x2="368.6" y2="589.3" stroke="#777" stroke-width="0.6"/>
<line x1="370.9" y1="588" x2="370.9" y2="589.3" stroke="#777" stroke-width="0.6"/>
<line x1="372.8" y1="588" x2="372.8" y2="589.3" stroke="#777" stroke-width="0.6"/>
<line x1="336.1" y1="588" x2="336.1" y2="590.2" stroke="#555" stroke-width="0.8"/>
<text x="374.6" y="597.6" font-family="Liberation Sans, sans-serif" font-weight="bold" font-size="7.5" text-anchor="middle">1E2</text>
<line x1="386.2" y1="588" x2="386.2" y2="589.3" stroke="#777" stroke-width="0.6"/>
<line x1="393.0" y1="588" x2="393.0" y2="589.3" stroke="#777" stroke-width="0.6"/>
<line x1="397.8" y1="588" x2="397.8" y2="589.3" stroke="#777" stroke-width="0.6"/>
<line x1="401.5" y1="588" x2="401.5" y2="589.3" stroke="#777" stroke-width="0.6"/>
<line x1="404.6" y1="588" x2="404.6" y2="589.3" stroke="#777" stroke-width="0.6"/>
<line x1="407.2" y1="588" x2="407.2" y2="589.3" stroke="#777" stroke-width="0.6"/>
<line x1="409.4" y1="588" x2="409.4" y2="589.3" stroke="#777" stroke-width="0.6"/>
<line x1="411.4" y1="588" x2="411.4" y2="589.3" stroke="#777" stroke-width="0.6"/>
<line x1="374.6" y1="588" x2="374.6" y2="590.2" stroke="#555" stroke-width="0.8"/>
<text x="413.1" y="597.6" font-family="Liberation Sans, sans-serif" font-weight="bold" font-size="7.5" text-anchor="middle">1E3</text>
<line x1="424.8" y1="588" x2="424.8" y2="589.3" stroke="#777" stroke-width="0.6"/>
<line x1="431.5" y1="588" x2="431.5" y2="589.3" stroke="#777" stroke-width="0.6"/>
<line x1="436.4" y1="588" x2="436.4" y2="589.3" stroke="#777" stroke-width="0.6"/>
<line x1="440.1" y1="588" x2="440.1" y2="589.3" stroke="#777" stroke-width="0.6"/>
<line x1="443.1" y1="588" x2="443.1" y2="589.3" stroke="#777" stroke-width="0.6"/>
<line x1="445.7" y1="588" x2="445.7" y2="589.3" stroke="#777" stroke-width="0.6"/>
<line x1="448.0" y1="588" x2="448.0" y2="589.3" stroke="#777" stroke-width="0.6"/>
<line x1="449.9" y1="588" x2="449.9" y2="589.3" stroke="#777" stroke-width="0.6"/>
<line x1="413.1" y1="588" x2="413.1" y2="590.2" stroke="#555" stroke-width="0.8"/>
<text x="451.7" y="597.6" font-family="Liberation Sans, sans-serif" font-weight="bold" font-size="7.5" text-anchor="middle">1E4</text>
<line x1="463.3" y1="588" x2="463.3" y2="589.3" stroke="#777" stroke-width="0.6"/>
<line x1="470.1" y1="588" x2="470.1" y2="589.3" stroke="#777" stroke-width="0.6"/>
<line x1="474.9" y1="588" x2="474.9" y2="589.3" stroke="#777" stroke-width="0.6"/>
<line x1="478.6" y1="588" x2="478.6" y2="589.3" stroke="#777" stroke-width="0.6"/>
<line x1="481.7" y1="588" x2="481.7" y2="589.3" stroke="#777" stroke-width="0.6"/>
<line x1="484.3" y1="588" x2="484.3" y2="589.3" stroke="#777" stroke-width="0.6"/>
<line x1="486.5" y1="588" x2="486.5" y2="589.3" stroke="#777" stroke-width="0.6"/>
<line x1="488.5" y1="588" x2="488.5" y2="589.3" stroke="#777" stroke-width="0.6"/>
<line x1="451.7" y1="588" x2="451.7" y2="590.2" stroke="#555" stroke-width="0.8"/>
<text x="490.2" y="597.6" font-family="Liberation Sans, sans-serif" font-weight="bold" font-size="7.5" text-anchor="middle">1E5</text>
<line x1="490.2" y1="588" x2="490.2" y2="590.2" stroke="#555" stroke-width="0.8"/>
<text transform="translate(282.0,571.5) rotate(-90)" font-family="Liberation Sans, sans-serif" font-weight="bold" font-size="7.7" text-anchor="middle">Density</text>
<path d="M44.00,589.2V589.2H44.60V589.2H45.20V589.2H45.80V589.2H46.40V589.2H47.00V589.2H47.60V589.2H48.20V589.2H48.80V583.5H49.40V583.5H50.00V589.2H50.60V589.2H51.20V589.2H51.80V583.5H52.40V589.2H53.00V589.2H53.60V589.2H54.20V589.2H54.80V589.2H55.40V583.5H56.00V583.5H56.60V589.2H57.20V589.2H57.80V589.2H58.40V589.2H59.00V589.2H59.60V583.5H60.20V589.2H60.80V589.2H61.40V589.2H62.00V589.2H62.60V589.2H63.20V589.2H63.80V589.2H64.40V589.2H65.00V583.5H65.60V589.2H66.20V589.2H66.80V589.2H67.40V589.2H68.00V589.2H68.60V589.2H69.20V589.2H69.80V589.2H70.40V589.2H71.00V589.2H71.60V589.2H72.20V589.2H72.80V589.2H73.40V589.2H74.00V589.2H74.60V589.2H75.20V589.2" fill="none" stroke="#b0b0b0" stroke-width="0.7" stroke-opacity="1"/>
<line x1="106.5" y1="440.5" x2="106.5" y2="467.0" stroke="#b0b0b0" stroke-width="0.7"/>
<path d="M60.00,589.2V589.2H60.60V589.2H61.20V589.2H61.80V589.2H62.40V589.2H63.00V589.2H63.60V583.5H64.20V589.2H64.80V589.2H65.40V583.5H66.00V589.2H66.60V589.2H67.20V589.2H67.80V589.2H68.40V589.2H69.00V589.2H69.60V583.5H70.20V589.2H70.80V583.5H71.40V589.2H72.00V589.2H72.60V589.2H73.20V589.2H73.80V589.2H74.40V589.2H75.00V589.2H75.60V589.2H76.20V589.2H76.80V589.2H77.40V589.2H78.00V589.2H78.60V589.2H79.20V589.2H79.80V589.2H80.40V589.2H81.00V583.5H81.60V589.2H82.20V589.2H82.80V589.2H83.40V589.2H84.00V589.2H84.60V589.2H85.20V583.5H85.80V589.2H86.40V589.2" fill="none" stroke="#555" stroke-width="0.7" stroke-opacity="1"/>
<path d="M74.00,589.2V589.2H74.60V589.2H75.20V589.2H75.80V589.2H76.40V583.5H77.00V583.5H77.60V583.5H78.20V583.5H78.80V577.7H79.40V572.0H80.00V572.0H80.60V572.0H81.20V566.3H81.80V560.6H82.40V566.3H83.00V543.4H83.60V549.1H84.20V543.4H84.80V549.1H85.40V549.1H86.00V549.1H86.60V537.6H87.20V543.4H87.80V537.6H88.40V537.6H89.00V537.6H89.60V537.6H90.20V549.1H90.80V537.6H91.40V531.9H92.00V543.4H92.60V543.4H93.20V543.4H93.80V537.6H94.40V543.4H95.00V537.6H95.60V503.3H96.20V514.7H96.80V526.2H97.40V526.2H98.00V526.2H98.60V509.0H99.20V503.3H99.80V491.8H100.40V497.5H101.00V514.7H101.60V486.1H102.20V514.7H102.80V474.6H103.40V486.1H104.00V480.3H104.60V463.1H105.20V440.2H105.80V497.5H106.40V457.4H107.00V463.1H107.60V457.4H108.20V474.6H108.80V480.3H109.40V463.1H110.00V463.1H110.60V480.3H111.20V446.0H111.80V468.9H112.40V480.3H113.00V474.6H113.60V474.6H114.20V463.1H114.80V474.6H115.40V480.3H116.00V474.6H116.60V497.5H117.20V491.8H117.80V497.5H118.40V503.3H119.00V509.0H119.60V509.0H120.20V514.7H120.80V509.0H121.40V520.4H122.00V497.5H122.60V520.4H123.20V531.9H123.80V526.2H124.40V537.6H125.00V549.1H125.60V526.2H126.20V543.4H126.80V543.4H127.40V537.6H128.00V549.1H128.60V549.1H129.20V543.4H129.80V554.8H130.40V554.8H131.00V554.8H131.60V560.6H132.20V566.3H132.80V566.3H133.40V572.0H134.00V572.0H134.60V583.5H135.20V572.0H135.80V577.7H136.40V577.7H137.00V577.7H137.60V583.5H138.20V577.7H138.80V577.7H139.40V583.5H140.00V589.2H140.60V589.2H141.20V589.2" fill="none" stroke="#b0b0b0" stroke-width="0.7" stroke-opacity="1"/>
<line x1="109.4" y1="451" x2="109.4" y2="468.6" stroke="#b0b0b0" stroke-width="0.7"/>
<path d="M86.00,589.2V589.2H86.60V589.2H87.20V583.5H87.80V577.7H88.40V577.7H89.00V577.7H89.60V577.7H90.20V577.7H90.80V566.3H91.40V577.7H92.00V577.7H92.60V572.0H93.20V566.3H93.80V577.7H94.40V566.3H95.00V560.6H95.60V572.0H96.20V577.7H96.80V572.0H97.40V572.0H98.00V566.3H98.60V560.6H99.20V566.3H99.80V572.0H100.40V560.6H101.00V560.6H101.60V572.0H102.20V572.0H102.80V566.3H103.40V560.6H104.00V566.3H104.60V560.6H105.20V560.6H105.80V554.8H106.40V560.6H107.00V554.8H107.60V543.4H108.20V554.8H108.80V566.3H109.40V543.4H110.00V554.8H110.60V543.4H111.20V549.1H111.80V520.4H112.40V537.6H113.00V520.4H113.60V514.7H114.20V520.4H114.80V526.2H115.40V520.4H116.00V509.0H116.60V497.5H117.20V509.0H117.80V497.5H118.40V503.3H119.00V480.3H119.60V509.0H120.20V503.3H120.80V486.1H121.40V468.9H122.00V491.8H122.60V486.1H123.20V474.6H123.80V486.1H124.40V457.4H125.00V457.4H125.60V446.0H126.20V468.9H126.80V440.0H127.40V468.9H128.00V440.0H128.60V480.3H129.20V503.3H129.80V509.0H130.40V497.5H131.00V509.0H131.60V509.0H132.20V503.3H132.80V503.3H133.40V503.3H134.00V526.2H134.60V509.0H135.20V520.4H135.80V531.9H136.40V549.1H137.00V531.9H137.60V531.9H138.20V531.9H138.80V543.4H139.40V549.1H140.00V549.1H140.60V554.8H141.20V560.6H141.80V572.0H142.40V566.3H143.00V566.3H143.60V566.3H144.20V566.3H144.80V577.7H145.40V577.7H146.00V577.7H146.60V583.5H147.20V583.5H147.80V583.5H148.40V589.2H149.00V589.2" fill="none" stroke="#262626" stroke-width="0.75" stroke-opacity="1"/>
<line x1="127.8" y1="440.5" x2="127.8" y2="463.1428571428571" stroke="#262626" stroke-width="0.75"/>
<path d="M148.00,589.2V589.2H148.60V589.2H149.20V589.2H149.80V589.2H150.40V583.5H151.00V589.2H151.60V589.2H152.20V589.2H152.80V589.2H153.40V589.2H154.00V589.2H154.60V589.2H155.20V589.2H155.80V589.2H156.40V589.2H157.00V589.2H157.60V583.5H158.20V589.2H158.80V583.5H159.40V589.2H160.00V589.2H160.60V589.2H161.20V589.2H161.80V583.5H162.40V583.5H163.00V589.2H163.60V589.2H164.20V583.5H164.80V589.2H165.40V589.2H166.00V583.5H166.60V589.2H167.20V589.2H167.80V589.2H168.40V589.2H169.00V589.2H169.60V589.2H170.20V583.5H170.80V589.2H171.40V589.2H172.00V589.2H172.60V589.2H173.20V589.2H173.80V589.2H174.40V589.2H175.00V583.5H175.60V589.2" fill="none" stroke="#555" stroke-width="0.7" stroke-opacity="1"/>
<path d="M362.00,588V588.0H362.50V588.0H363.00V585.7H363.50V585.7H364.00V583.3H364.50V581.0H365.00V581.0H365.50V578.7H366.00V578.7H366.50V576.4H367.00V569.4H367.50V578.7H368.00V574.0H368.50V576.4H369.00V571.7H369.50V567.0H370.00V562.4H370.50V560.0H371.00V562.4H371.50V557.7H372.00V557.7H372.50V543.7H373.00V543.7H373.50V543.7H374.00V536.7H374.50V520.4H375.00V522.8H375.50V525.1H376.00V511.1H376.50V494.8H377.00V499.5H377.50V483.1H378.00V487.8H378.50V478.5H379.00V483.1H379.50V457.5H380.00V471.5H380.50V457.5H381.00V452.9H381.50V445.9H382.00V438.5H382.50V450.5H383.00V438.9H383.50V448.2H384.00V441.2H384.50V457.5H385.00V457.5H385.50V478.5H386.00V478.5H386.50V471.5H387.00V487.8H387.50V476.2H388.00V497.1H388.50V487.8H389.00V504.1H389.50V504.1H390.00V506.4H390.50V513.4H391.00V534.4H391.50V543.7H392.00V541.4H392.50V536.7H393.00V532.1H393.50V543.7H394.00V543.7H394.50V534.4H395.00V541.4H395.50V543.7H396.00V546.1H396.50V546.1H397.00V553.0H397.50V548.4H398.00V548.4H398.50V553.0H399.00V562.4H399.50V550.7H400.00V555.4H400.50V555.4H401.00V560.0H401.50V567.0H402.00V560.0H402.50V564.7H403.00V569.4H403.50V569.4H404.00V574.0H404.50V574.0H405.00V576.4H405.50V578.7H406.00V581.0H406.50V583.3H407.00V583.3H407.50V585.7H408.00V585.7H408.50V588.0H409.00V588.0H409.50V588" fill="none" stroke="#a8a8a8" stroke-width="0.6" stroke-opacity="1"/>
<path d="M384.00,588V588.0H384.40V585.7H384.80V585.7H385.20V585.7H385.60V583.3H386.00V585.7H386.40V583.3H386.80V583.3H387.20V585.7H387.60V583.3H388.00V583.3H388.40V583.3H388.80V583.3H389.20V583.3H389.60V583.3H390.00V581.0H390.40V583.3H390.80V581.0H391.20V583.3H391.60V578.7H392.00V576.4H392.40V581.0H392.80V578.7H393.20V574.0H393.60V578.7H394.00V574.0H394.40V574.0H394.80V574.0H395.20V576.4H395.60V571.7H396.00V569.4H396.40V567.0H396.80V567.0H397.20V567.0H397.60V571.7H398.00V571.7H398.40V562.4H398.80V571.7H399.20V569.4H399.60V564.7H400.00V569.4H400.40V569.4H400.80V562.4H401.20V567.0H401.60V564.7H402.00V564.7H402.40V557.7H402.80V562.4H403.20V562.4H403.60V564.7H404.00V564.7H404.40V564.7H404.80V562.4H405.20V567.0H405.60V553.0H406.00V560.0H406.40V557.7H406.80V557.7H407.20V555.4H407.60V560.0H408.00V555.4H408.40V557.7H408.80V560.0H409.20V562.4H409.60V557.7H410.00V555.4H410.40V555.4H410.80V553.0H411.20V548.4H411.60V555.4H412.00V555.4H412.40V553.0H412.80V550.7H413.20V553.0H413.60V550.7H414.00V553.0H414.40V557.7H414.80V546.1H415.20V553.0H415.60V550.7H416.00V550.7H416.40V553.0H416.80V543.7H417.20V550.7H417.60V555.4H418.00V548.4H418.40V553.0H418.80V550.7H419.20V555.4H419.60V550.7H420.00V550.7H420.40V550.7H420.80V553.0H421.20V553.0H421.60V555.4H422.00V555.4H422.40V555.4H422.80V553.0H423.20V553.0H423.60V560.0H424.00V555.4H424.40V550.7H424.80V555.4H425.20V562.4H425.60V560.0H426.00V560.0H426.40V562.4H426.80V560.0H427.20V560.0H427.60V562.4H428.00V562.4H428.40V567.0H428.80V564.7H429.20V564.7H429.60V564.7H430.00V569.4H430.40V567.0H430.80V574.0H431.20V562.4H431.60V569.4H432.00V567.0H432.40V569.4H432.80V567.0H433.20V569.4H433.60V569.4H434.00V567.0H434.40V574.0H434.80V571.7H435.20V571.7H435.60V571.7H436.00V571.7H436.40V571.7H436.80V571.7H437.20V574.0H437.60V576.4H438.00V571.7H438.40V574.0H438.80V581.0H439.20V578.7H439.60V581.0H440.00V574.0H440.40V578.7H440.80V581.0H441.20V578.7H441.60V581.0H442.00V578.7H442.40V578.7H442.80V576.4H443.20V583.3H443.60V578.7H444.00V581.0H444.40V583.3H444.80V583.3H445.20V583.3H445.60V583.3H446.00V583.3H446.40V583.3H446.80V583.3H447.20V583.3H447.60V578.7H448.00V585.7H448.40V581.0H448.80V581.0H449.20V581.0H449.60V583.3H450.00V581.0H450.40V583.3H450.80V581.0H451.20V581.0H451.60V583.3H452.00V583.3H452.40V583.3H452.80V583.3H453.20V585.7H453.60V585.7H454.00V583.3H454.40V585.7H454.80V583.3H455.20V585.7H455.60V583.3H456.00V585.7H456.40V583.3H456.80V583.3H457.20V585.7H457.60V588.0H458.00V588.0H458.40V585.7H458.80V585.7H459.20V585.7H459.60V588.0H460.00V585.7H460.40V585.7H460.80V588.0H461.20V588.0H461.60V588.0H462.00V585.7H462.40V588.0H462.80V588.0H463.20V588.0H463.60V588.0H464.00V588" fill="none" stroke="#1e1e1e" stroke-width="0.7" stroke-opacity="1"/>
<line x1="414.6" y1="543.8" x2="414.6" y2="554.8" stroke="#1e1e1e" stroke-width="0.7"/>
<text x="193.8" y="463.7" font-family="Liberation Sans, sans-serif" font-weight="bold" font-size="9" text-anchor="middle">OPM-2</text>
<text x="472.4" y="462.1" font-family="Liberation Sans, sans-serif" font-weight="bold" font-size="9" text-anchor="middle">OPM-2</text>
<line x1="32.1" y1="606.5" x2="219.8" y2="606.5" stroke="#000" stroke-width="1.7"/>
<path d="M223.8 606.5 L218.0 603.7 L218.0 609.3 Z" fill="#000"/>
<line x1="302.7" y1="606.3" x2="490.6" y2="606.3" stroke="#000" stroke-width="1.7"/>
<path d="M494.6 606.3 L488.8 603.5 L488.8 609.0999999999999 Z" fill="#000"/>
<text x="122.5" y="621" font-family="Liberation Sans, sans-serif" font-weight="bold" font-size="9" text-anchor="middle">aurora-A</text>
<text x="393" y="621" font-family="Liberation Sans, sans-serif" font-weight="bold" font-size="9" text-anchor="middle">aurora-B</text>
</svg></body></html>
